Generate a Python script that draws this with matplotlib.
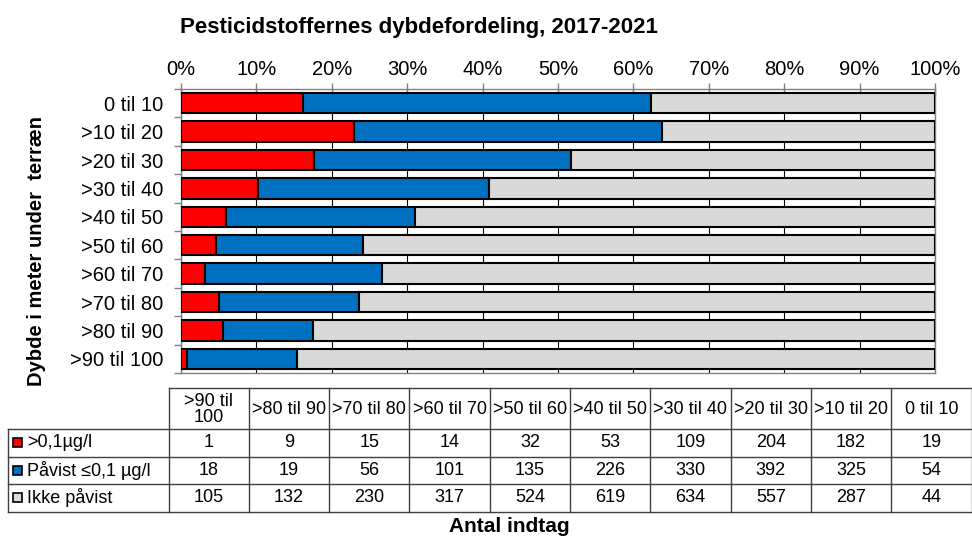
import numpy as np
import matplotlib.pyplot as plt
from matplotlib.patches import Rectangle

plt.rcParams['font.family'] = ['Liberation Sans', 'DejaVu Sans']

# depth classes in table order (deepest first)
depths = ['>90 til 100', '>80 til 90', '>70 til 80', '>60 til 70', '>50 til 60',
          '>40 til 50', '>30 til 40', '>20 til 30', '>10 til 20', '0 til 10']
header_labels = ['>90 til\n100', '>80 til 90', '>70 til 80', '>60 til 70', '>50 til 60',
                 '>40 til 50', '>30 til 40', '>20 til 30', '>10 til 20', '0 til 10']
over_limit = [1, 9, 15, 14, 32, 53, 109, 204, 182, 19]
detected = [18, 19, 56, 101, 135, 226, 330, 392, 325, 54]
not_detected = [105, 132, 230, 317, 524, 619, 634, 557, 287, 44]

series_names = ['>0,1µg/l', 'Påvist ≤0,1 µg/l', 'Ikke påvist']
colors = ['#FF0000', '#0070C0', '#D9D9D9']

W, H = 972, 536
fig = plt.figure(figsize=(W / 100, H / 100), dpi=100)

counts = np.array([over_limit, detected, not_detected], dtype=float)
pct = counts / counts.sum(axis=0) * 100

ax = fig.add_axes([181 / W, 1 - 373 / H, (935 - 181) / W, (373 - 89) / H])
y = np.arange(len(depths))
left = np.zeros(len(depths))
for vals, c in zip(pct, colors):
    ax.barh(y, vals, left=left, height=0.72, color=c, edgecolor='black',
            linewidth=1.5, zorder=3)
    left += vals

ax.set_xlim(0, 100)
ax.set_ylim(-0.5, len(depths) - 0.5)
ax.xaxis.tick_top()
ax.set_xticks(np.arange(0, 101, 10))
ax.set_xticklabels([f'{v}%' for v in range(0, 101, 10)])
ax.tick_params(axis='x', direction='inout', length=8, width=1, color='#808080',
               pad=3, labelsize=14.5)
ax.set_yticks(y)
ax.set_yticklabels(depths)
ax.tick_params(axis='y', which='major', length=0, pad=13, labelsize=14.5)
ax.set_yticks(np.arange(-0.5, len(depths), 1), minor=True)
ax.tick_params(axis='y', which='minor', length=5, width=1, color='#808080', direction='out')
ax.grid(axis='x', color='black', linewidth=0.8, zorder=0)
ax.set_axisbelow(True)
for s in ax.spines.values():
    s.set_color('#808080')
    s.set_linewidth(1)

fig.text(419 / W, 1 - 27 / H, 'Pesticidstoffernes dybdefordeling, 2017-2021',
         ha='center', va='center', fontsize=16, fontweight='bold')
fig.text(37 / W, 1 - 251 / H, 'Dybde i meter under  terræn', rotation=90,
         ha='center', va='center', fontsize=14.5, fontweight='bold')

# data table below the chart
tax = fig.add_axes([0, 0, 1, 1])
tax.set_xlim(0, W)
tax.set_ylim(H, 0)
tax.axis('off')

x0, x_lab, col_w = 168.5, 8, 80.3
top, head_bot = 388, 429
row_h = 27.5
n_cols = len(depths)
x_end = x0 + n_cols * col_w
row_edges = [head_bot + k * row_h for k in range(4)]
lc, lw = '#404040', 1.0

tax.plot([x0, x_end], [top, top], color=lc, lw=lw)
for yy in row_edges:
    tax.plot([x_lab, x_end], [yy, yy], color=lc, lw=lw)
tax.plot([x_lab, x_lab], [head_bot, row_edges[-1]], color=lc, lw=lw)
for k in range(n_cols + 1):
    xx = x0 + k * col_w
    tax.plot([xx, xx], [top, row_edges[-1]], color=lc, lw=lw)

for k, lab in enumerate(header_labels):
    tax.text(x0 + (k + 0.5) * col_w, (top + head_bot) / 2 + 1, lab, ha='center', va='center',
             fontsize=13, linespacing=0.95)

rows = [over_limit, detected, not_detected]
for r, (name, c, vals) in enumerate(zip(series_names, colors, rows)):
    yc = row_edges[r] + row_h / 2
    tax.add_patch(Rectangle((13, yc - 4.5), 9, 9, facecolor=c, edgecolor='black', lw=1.2))
    tax.text(27, yc, name, ha='left', va='center', fontsize=13)
    for k, v in enumerate(vals):
        tax.text(x0 + (k + 0.5) * col_w, yc, str(v), ha='center', va='center', fontsize=13)

tax.text(509, 526, 'Antal indtag', ha='center', va='center', fontsize=15, fontweight='bold')

fig.savefig('out.png', dpi=100)
